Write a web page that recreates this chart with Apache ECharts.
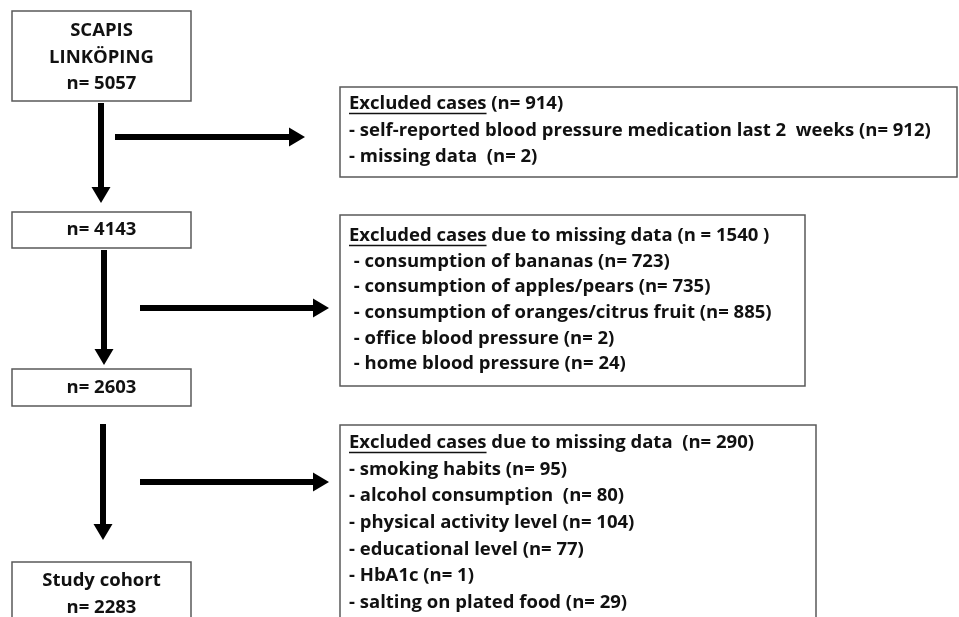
<!DOCTYPE html>
<html><head><meta charset="utf-8">
<script src="https://cdn.jsdelivr.net/npm/echarts@6/dist/echarts.min.js"></script>
<style>html,body{margin:0;padding:0;background:#fff}#c{width:959px;height:617px}</style>
</head><body><div id="c"></div>
<script>
// ---------- data ----------
const flowCounts = [5057, 4143, 2603, 2283];
const flowTitles = [['SCAPIS', 'LINKÖPING'], [], [], ['Study cohort']];
const exclusionTotals = [914, 1540, 290];
const exclusion1Reasons = ['self-reported blood pressure medication last 2  weeks', 'missing data '];
const exclusion1Counts = [912, 2];
const exclusion2Reasons = ['consumption of bananas', 'consumption of apples/pears', 'consumption of oranges/citrus fruit', 'office blood pressure', 'home blood pressure'];
const exclusion2Counts = [723, 735, 885, 2, 24];
const exclusion3Reasons = ['smoking habits', 'alcohol consumption ', 'physical activity level', 'educational level', 'HbA1c', 'salting on plated food'];
const exclusion3Counts = [95, 80, 104, 77, 1, 29];
const headerLead = 'Excluded cases';

// ---------- text built from data ----------
const leftLines = flowCounts.map((n, i) => flowTitles[i].concat(['n= ' + n]));
const rightLines = [
  [headerLead + ' (n= ' + exclusionTotals[0] + ')'].concat(exclusion1Reasons.map((r, i) => '- ' + r + ' (n= ' + exclusion1Counts[i] + ')')),
  [headerLead + ' due to missing data (n = ' + exclusionTotals[1] + ' )'].concat(exclusion2Reasons.map((r, i) => ' - ' + r + ' (n= ' + exclusion2Counts[i] + ')')),
  [headerLead + ' due to missing data  (n= ' + exclusionTotals[2] + ')'].concat(exclusion3Reasons.map((r, i) => '- ' + r + ' (n= ' + exclusion3Counts[i] + ')'))
];

// ---------- layout (pixel space of the hidden axes) ----------
const leftBoxLayout = [
  { x0: 12, y0: 11, x1: 191, y1: 101, firstY: 31, step: 26.5 },
  { x0: 12, y0: 212, x1: 191, y1: 248, firstY: 230, step: 26 },
  { x0: 12, y0: 369, x1: 191, y1: 406, firstY: 388, step: 26 },
  { x0: 12, y0: 562, x1: 191, y1: 660, firstY: 581, step: 27 }
];
const rightBoxLayout = [
  { x0: 340, y0: 87, x1: 957, y1: 177, firstY: 104, step: 26.5, textX: 349 },
  { x0: 340, y0: 215, x1: 805, y1: 386, firstY: 236, step: 25.6, textX: 349 },
  { x0: 340, y0: 425, x1: 816, y1: 660, firstY: 443, step: 26.6, textX: 349 }
];
const arrowLayout = [
  { x0: 101, y0: 103, x1: 101, y1: 203 },
  { x0: 104, y0: 250, x1: 104, y1: 365 },
  { x0: 103, y0: 424, x1: 103, y1: 540 },
  { x0: 115, y0: 137, x1: 305, y1: 137 },
  { x0: 140, y0: 308, x1: 329, y1: 308 },
  { x0: 140, y0: 482, x1: 329, y1: 482 }
];

const FAMILY = '"Open Sans", Lato, sans-serif';
const BORDER = '#5a5a5a';
const measureCtx = document.createElement('canvas').getContext('2d');
// fit font size so the longest reason line spans ~581px as in the reference
measureCtx.font = 'bold 100px ' + FAMILY;
const fitSize = Math.round(100 * 581 / measureCtx.measureText(rightLines[0][1]).width * 10) / 10;
const FONT = 'bold ' + fitSize + 'px ' + FAMILY;
measureCtx.font = FONT;
const underlineW = measureCtx.measureText(headerLead).width;

function textEl(x, y, text, align) {
  return { type: 'text', x: 0, y: 0, style: { x: x, y: y, text: text, font: FONT, fill: '#111',
    align: align, verticalAlign: 'middle', textAlign: align, textVerticalAlign: 'middle' } };
}

function renderLeft(params, api) {
  const i = api.value(0);
  const b = leftBoxLayout[i];
  const p0 = api.coord([b.x0, b.y0]), p1 = api.coord([b.x1, b.y1]);
  const kids = [{ type: 'rect', shape: { x: p0[0], y: p0[1], width: p1[0] - p0[0], height: p1[1] - p0[1] },
    style: { fill: '#fff', stroke: BORDER, lineWidth: 1.5 } }];
  leftLines[i].forEach((t, k) => {
    const py = api.coord([0, b.firstY + k * b.step])[1];
    kids.push(textEl((p0[0] + p1[0]) / 2, py, t, 'center'));
  });
  return { type: 'group', children: kids };
}

function renderRight(params, api) {
  const i = api.value(0);
  const b = rightBoxLayout[i];
  const p0 = api.coord([b.x0, b.y0]), p1 = api.coord([b.x1, b.y1]);
  const tx = api.coord([b.textX, 0])[0];
  const kids = [{ type: 'rect', shape: { x: p0[0], y: p0[1], width: p1[0] - p0[0], height: p1[1] - p0[1] },
    style: { fill: '#fff', stroke: BORDER, lineWidth: 1.5 } }];
  rightLines[i].forEach((t, k) => {
    const py = api.coord([0, b.firstY + k * b.step])[1];
    kids.push(textEl(tx, py, t, 'left'));
    if (k === 0) {
      kids.push({ type: 'line', shape: { x1: tx, y1: py + 9.5, x2: tx + underlineW, y2: py + 9.5 },
        style: { stroke: '#111', lineWidth: 1.3 } });
    }
  });
  return { type: 'group', children: kids };
}

function renderArrow(params, api) {
  const a = arrowLayout[api.value(0)];
  const s = api.coord([a.x0, a.y0]), e = api.coord([a.x1, a.y1]);
  const dx = e[0] - s[0], dy = e[1] - s[1];
  const len = Math.sqrt(dx * dx + dy * dy);
  const ux = dx / len, uy = dy / len, nx = -uy, ny = ux;
  const hw = 3, headL = 16, headW = 9.5;
  const bx = e[0] - ux * headL, by = e[1] - uy * headL;
  const pts = [
    [s[0] + nx * hw, s[1] + ny * hw], [bx + nx * hw, by + ny * hw], [bx + nx * headW, by + ny * headW],
    [e[0], e[1]],
    [bx - nx * headW, by - ny * headW], [bx - nx * hw, by - ny * hw], [s[0] - nx * hw, s[1] - ny * hw]
  ];
  return { type: 'polygon', shape: { points: pts }, style: { fill: '#000' } };
}

const chart = echarts.init(document.getElementById('c'), null, { renderer: 'canvas' });
chart.setOption({
  animation: false,
  backgroundColor: '#fff',
  grid: { left: 0, right: 0, top: 0, bottom: 0 },
  xAxis: { type: 'value', min: 0, max: 959, show: false },
  yAxis: { type: 'value', min: 0, max: 617, inverse: true, show: false },
  series: [
    { type: 'custom', renderItem: renderArrow, data: arrowLayout.map((_, i) => [i]), clip: false, silent: true },
    { type: 'custom', renderItem: renderLeft, data: leftLines.map((_, i) => [i]), clip: false, silent: true },
    { type: 'custom', renderItem: renderRight, data: rightLines.map((_, i) => [i]), clip: false, silent: true }
  ]
});
</script>
</body></html>
